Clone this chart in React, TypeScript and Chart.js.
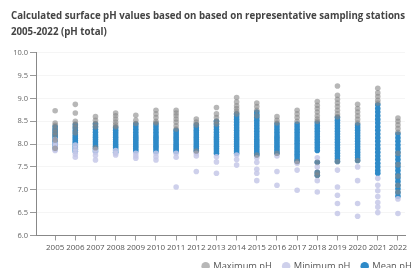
import React, { useEffect, useRef } from "react";
import { Chart, registerables } from "chart.js";

Chart.register(...registerables);

const titleLines = [
  "Calculated surface pH values based on based on representative sampling stations",
  "2005-2022 (pH total)",
];

const years = [2005, 2006, 2007, 2008, 2009, 2010, 2011, 2012, 2013, 2014, 2015, 2016, 2017, 2018, 2019, 2020, 2021, 2022];

const yTicks = [6.0, 6.5, 7.0, 7.5, 8.0, 8.5, 9.0, 9.5, 10.0];

// Maximum pH per station, one list per year
const maxPH: number[][] = [
  [8.73, 8.46, 8.41, 8.33, 8.26, 8.2, 8.09, 7.91],
  [8.87, 8.68, 8.5, 8.44, 8.36, 8.25],
  [8.6, 8.52, 8.45, 8.38, 7.92],
  [8.68, 8.62, 8.55, 8.48, 8.42, 8.38],
  [8.63, 8.52, 8.45],
  [8.74, 8.66, 8.58, 8.5, 8.46],
  [8.74, 8.68, 8.62, 8.55, 8.48, 8.4, 8.33],
  [8.55, 8.48, 8.42, 7.85],
  [8.8, 8.66, 8.58, 8.5, 8.44],
  [9.02, 8.92, 8.84, 8.78, 8.72, 8.66],
  [8.9, 8.82, 8.74, 8.62, 7.76],
  [8.6, 8.52, 8.46, 7.8],
  [8.74, 8.66, 8.58, 8.5, 7.62],
  [8.93, 8.85, 8.78, 8.7, 8.62, 8.55, 8.5, 7.6, 7.38, 7.32],
  [9.27, 9.07, 8.98, 8.9, 8.82, 8.74, 8.66, 8.6, 7.62],
  [8.87, 8.78, 8.7, 8.62, 8.54, 8.46, 7.64],
  [9.22, 9.12, 9.04, 8.96, 8.9],
  [8.57, 8.5, 8.42, 8.34, 8.26, 7.8, 7.55, 7.3, 7.1, 6.95],
];

// Minimum pH per station, one list per year
const minPH: number[][] = [
  [8.1, 8.02, 7.96, 7.92, 7.88, 7.86],
  [7.98, 7.9, 7.84, 7.78, 7.71],
  [7.88, 7.82, 7.75, 7.65],
  [7.86, 7.8, 7.76],
  [7.8, 7.74, 7.69],
  [7.8, 7.72, 7.65],
  [7.8, 7.71, 7.06],
  [7.8, 7.74, 7.4],
  [7.72, 7.61, 7.36],
  [7.76, 7.66, 7.54],
  [7.7, 7.6, 7.45, 7.36, 7.2],
  [7.74, 7.4, 7.1],
  [7.58, 7.43, 6.99],
  [7.7, 7.5, 7.2, 6.95],
  [7.43, 7.06, 6.88, 6.7, 6.48],
  [7.5, 7.2, 6.7, 6.42],
  [7.25, 7.1, 6.98, 6.85, 6.72, 6.62, 6.5],
  [6.8, 6.48],
];

// Mean pH per station, one list per year
const meanPH: number[][] = [
  [8.38, 8.32, 8.27, 8.22, 8.18, 8.14, 8.1, 8.06, 8.02, 7.98, 7.94, 7.9],
  [8.42, 8.36, 8.3, 8.25, 8.2, 8.16, 8.12, 8.08, 8.04, 8.0, 7.96, 7.92, 7.88, 7.84],
  [8.44, 8.38, 8.32, 8.26, 8.2, 8.15, 8.1, 8.05, 8.0, 7.95, 7.9, 7.85],
  [8.36, 8.3, 8.25, 8.2, 8.15, 8.1, 8.05, 8.0, 7.96, 7.92, 7.87, 7.82],
  [8.44, 8.38, 8.32, 8.26, 8.2, 8.15, 8.1, 8.05, 8.0, 7.95, 7.9, 7.85],
  [8.44, 8.38, 8.32, 8.26, 8.2, 8.15, 8.1, 8.05, 8.0, 7.95, 7.9, 7.84],
  [8.3, 8.25, 8.2, 8.15, 8.1, 8.05, 8.0, 7.96, 7.92, 7.88, 7.84],
  [8.42, 8.36, 8.3, 8.25, 8.2, 8.15, 8.1, 8.05, 8.0, 7.95, 7.9, 7.85],
  [8.5, 8.44, 8.38, 8.32, 8.26, 8.2, 8.15, 8.1, 8.05, 8.0, 7.95, 7.9, 7.85, 7.8],
  [8.66, 8.6, 8.54, 8.48, 8.42, 8.36, 8.3, 8.25, 8.2, 8.15, 8.1, 8.05, 8.0, 7.95, 7.9, 7.85, 7.8],
  [8.7, 8.64, 8.58, 8.52, 8.46, 8.4, 8.34, 8.28, 8.22, 8.16, 8.1, 8.05, 8.0, 7.95, 7.9, 7.85, 7.8, 7.76],
  [8.44, 8.38, 8.32, 8.26, 8.2, 8.15, 8.1, 8.05, 8.0, 7.95, 7.9, 7.85, 7.8],
  [8.44, 8.38, 8.32, 8.26, 8.2, 8.14, 8.08, 8.02, 7.96, 7.9, 7.84, 7.78, 7.72, 7.66, 7.62],
  [8.46, 8.4, 8.34, 8.28, 8.22, 8.16, 8.1, 8.04, 7.98, 7.92, 7.86, 7.6, 7.38, 7.32],
  [8.58, 8.52, 8.46, 8.4, 8.34, 8.28, 8.22, 8.16, 8.1, 8.04, 7.98, 7.92, 7.86, 7.8, 7.74, 7.68, 7.62],
  [8.42, 8.36, 8.3, 8.24, 8.18, 8.12, 8.06, 8.0, 7.94, 7.88, 7.82, 7.76, 7.7, 7.64],
  [8.86, 8.78, 8.7, 8.62, 8.54, 8.46, 8.38, 8.3, 8.22, 8.14, 8.06, 7.98, 7.9, 7.82, 7.74, 7.66, 7.58, 7.5, 7.42, 7.36],
  [8.22, 8.14, 8.06, 7.98, 7.9, 7.82, 7.74, 7.66, 7.58, 7.5, 7.42, 7.34, 7.26, 7.18, 7.1, 7.02, 6.94, 6.86],
];

const toPoints = (lists: number[][]) =>
  years.flatMap((yr, i) => lists[i].map((v) => ({ x: yr, y: v })));

const FONT = "'Open Sans', 'Noto Sans', sans-serif";

export default function App() {
  const canvasRef = useRef<HTMLCanvasElement | null>(null);

  useEffect(() => {
    const canvas = canvasRef.current;
    if (!canvas) return;
    const chart = new Chart(canvas, {
      type: "scatter",
      data: {
        datasets: [
          {
            label: "Maximum pH",
            data: toPoints(maxPH),
            backgroundColor: "rgba(135,135,135,0.6)",
            borderWidth: 0,
            pointRadius: 2.8,
          },
          {
            label: "Minimum pH",
            data: toPoints(minPH),
            backgroundColor: "rgba(198,200,232,0.85)",
            borderWidth: 0,
            pointRadius: 2.8,
          },
          {
            label: "Mean pH",
            data: toPoints(meanPH),
            backgroundColor: "#2e8ac8",
            borderWidth: 0,
            pointRadius: 2.8,
          },
        ],
      },
      options: {
        animation: false,
        responsive: true,
        maintainAspectRatio: false,
        events: [],
        layout: { padding: { left: 11, right: 7, top: 0, bottom: 0 } },
        plugins: {
          tooltip: { enabled: false },
          title: {
            display: true,
            text: titleLines,
            align: "start",
            color: "#444",
            font: { family: FONT, size: 9.7, weight: "bold", lineHeight: "16px" },
            padding: { top: 8, bottom: 12.7 },
          },
          legend: {
            display: true,
            position: "bottom",
            align: "end",
            labels: {
              usePointStyle: true,
              pointStyle: "circle",
              boxWidth: 6,
              boxHeight: 6,
              padding: 11.25,
              color: "#555",
              font: { family: FONT, size: 9.3 },
            },
          },
        },
        scales: {
          x: {
            type: "linear",
            min: 2004.05,
            max: 2022.35,
            afterBuildTicks: (axis: any) => {
              axis.ticks = years.map((v) => ({ value: v }));
            },
            afterFit: (scale: any) => {
              scale.height = 15;
            },
            border: { display: true, color: "#888", width: 1 },
            grid: {
              drawOnChartArea: false,
              drawTicks: true,
              tickLength: 5,
              tickColor: "#999",
            },
            ticks: {
              autoSkip: false,
              maxRotation: 0,
              minRotation: 0,
              padding: 2,
              color: "#555",
              font: { family: FONT, size: 8 },
              callback: (v: any) => String(v),
            },
          },
          y: {
            type: "linear",
            min: 6,
            max: 10,
            afterBuildTicks: (axis: any) => {
              axis.ticks = yTicks.map((v) => ({ value: v }));
            },
            afterFit: (scale: any) => {
              scale.width = 25;
            },
            border: { display: true, color: "#888", width: 1 },
            grid: {
              color: "rgba(0,0,0,0.04)",
              tickLength: 6,
              tickColor: "#999",
            },
            ticks: {
              padding: 2,
              color: "#666",
              font: { family: FONT, size: 7.5 },
              callback: (v: any) => Number(v).toFixed(1),
            },
          },
          yRightSpace: {
            type: "linear",
            position: "right",
            display: true,
            min: 6,
            max: 10,
            afterFit: (scale: any) => {
              scale.width = 18;
            },
            border: { display: false },
            grid: { display: false, drawTicks: false },
            ticks: { display: false },
          },
        },
      },
    } as any);
    return () => chart.destroy();
  }, []);

  return (
    <div style={{ position: "fixed", left: 0, top: 0, width: 412, height: 268, overflow: "hidden", background: "#fff" }}>
      <div style={{ position: "relative", width: 430, height: 281 }}>
        <canvas ref={canvasRef} />
      </div>
    </div>
  );
}
